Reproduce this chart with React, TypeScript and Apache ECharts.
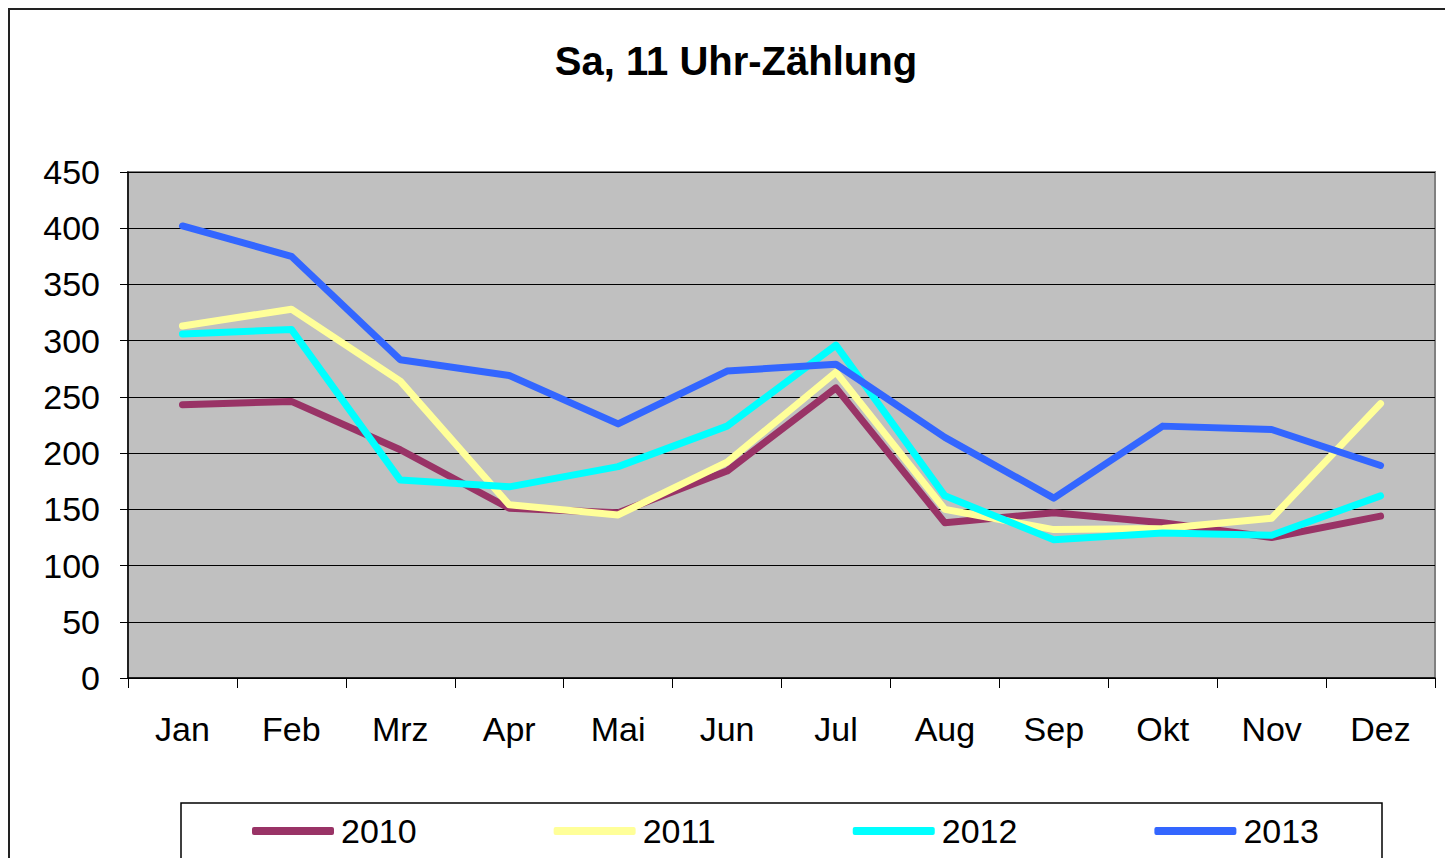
import React, { useEffect, useRef } from "react";
import * as echarts from "echarts";

const months = ["Jan", "Feb", "Mrz", "Apr", "Mai", "Jun", "Jul", "Aug", "Sep", "Okt", "Nov", "Dez"];
const s2010 = [243, 246, 203, 151, 147, 184, 258, 138, 147, 138, 125, 144];
const s2011 = [313, 328, 264, 154, 145, 192, 272, 150, 132, 133, 142, 244];
const s2012 = [306, 310, 176, 170, 188, 224, 296, 162, 123, 129, 127, 162];
const s2013 = [402, 375, 283, 269, 226, 273, 279, 214, 160, 224, 221, 189];
const seriesNames = ["2010", "2011", "2012", "2013"];
const seriesColors = ["#993366", "#FFFF99", "#00FFFF", "#3366FF"];
const FONT = "'Liberation Sans', Arial, sans-serif";

export default function App() {
  const ref = useRef<HTMLDivElement>(null);
  useEffect(() => {
    if (!ref.current) return;
    const chart = echarts.init(ref.current, null, { renderer: "svg" });
    const data = [s2010, s2011, s2012, s2013];
    chart.setOption({
      animation: false,
      backgroundColor: "#ffffff",
      title: {
        text: "Sa, 11 Uhr-Zählung",
        left: 721,
        textAlign: "center",
        top: 26,
        textStyle: { fontFamily: FONT, fontSize: 40, fontWeight: "bold", color: "#000" },
      },
      grid: {
        left: 118,
        top: 162,
        width: 1307,
        height: 506,
        show: true,
        backgroundColor: "#C0C0C0",
        borderColor: "#808080",
        borderWidth: 2,
      },
      legend: {
        left: 237,
        top: 799,
        itemGap: 137,
        itemWidth: 82,
        itemHeight: 8,
        icon: "roundRect",
        textStyle: { fontFamily: FONT, fontSize: 34, color: "#000", padding: [0, 0, 0, 2] },
        data: seriesNames,
      },
      graphic: [
        {
          type: "rect",
          shape: { x: 171, y: 793, width: 1201, height: 100 },
          style: { fill: "none", stroke: "#000", lineWidth: 1.5 },
          z: -1,
        },
      ],
      xAxis: {
        type: "category",
        data: months,
        boundaryGap: true,
        axisLine: { lineStyle: { color: "#000", width: 1.5 } },
        axisTick: { show: true, length: 10, lineStyle: { color: "#000" } },
        axisLabel: { fontFamily: FONT, fontSize: 34, color: "#000", margin: 34 },
      },
      yAxis: {
        type: "value",
        min: 0,
        max: 450,
        interval: 50,
        axisLine: { show: true, lineStyle: { color: "#000", width: 1.5 } },
        axisTick: { show: true, length: 8, lineStyle: { color: "#000" } },
        axisLabel: { fontFamily: FONT, fontSize: 34, color: "#000", margin: 28 },
        splitLine: { show: true, lineStyle: { color: "#000", width: 1 } },
      },
      series: seriesNames.map((name, i) => ({
        name,
        type: "line",
        data: data[i],
        symbol: "none",
        color: seriesColors[i],
        lineStyle: { width: 7, color: seriesColors[i], cap: "round", join: "round" },
      })),
    });
    return () => chart.dispose();
  }, []);
  return (
    <div
      ref={ref}
      style={{
        width: 1445,
        height: 850,
        borderTop: "2px solid #222",
        borderLeft: "2px solid #222",
        boxSizing: "border-box",
      }}
    />
  );
}
